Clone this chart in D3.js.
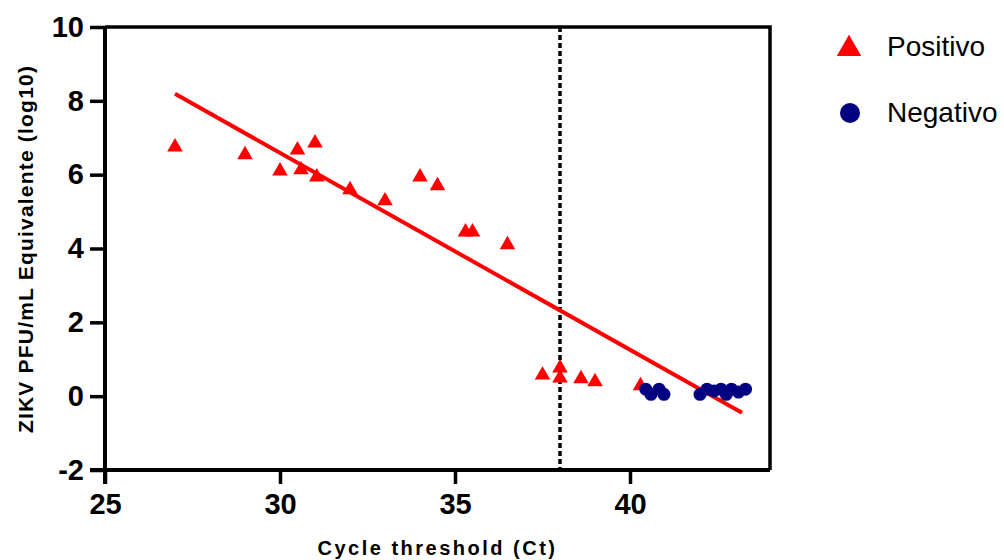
<!DOCTYPE html>
<html>
<head>
<meta charset="utf-8">
<script src="https://cdn.jsdelivr.net/npm/d3@7/dist/d3.min.js"></script>
<style>
  body { margin: 0; background: #fff; }
  text { font-family: "Liberation Sans", Arial, sans-serif; }
</style>
</head>
<body>
<div id="vis"></div>
<script>
// Positive samples (Ct, log10 PFU/mL)
var posCt  = [27, 29, 30, 30.5, 30.6, 31, 31.05, 32, 33, 34, 34.5, 35.3, 35.5, 36.5, 37.5, 38, 38, 38.6, 39, 40.3];
var posVal = [6.75, 6.54, 6.1, 6.67, 6.13, 6.86, 5.94, 5.59, 5.29, 5.94, 5.7, 4.45, 4.45, 4.1, 0.57, 0.76, 0.49, 0.47, 0.39, 0.28];

// Negative samples
var negCt  = [40.45, 40.6, 40.83, 40.97, 42.0, 42.2, 42.4, 42.6, 42.75, 42.9, 43.1, 43.3];
var negVal = [0.19, 0.05, 0.19, 0.05, 0.05, 0.19, 0.14, 0.19, 0.05, 0.19, 0.11, 0.19];

// Linear fit ends and cutoff
var fitCt  = [27, 43.2];
var fitVal = [8.19, -0.45];
var cutoffCt = 38;

var xTicks = [25, 30, 35, 40];
var yTicks = [-2, 0, 2, 4, 6, 8, 10];
var legendLabels = ['Positivo', 'Negativo'];

var width = 1004, height = 560;
var margin = { top: 27, right: 234, bottom: 90, left: 105 };
var drawWidth = width - margin.left - margin.right;
var drawHeight = height - margin.top - margin.bottom;

var svg = d3.select('#vis').append('svg')
    .attr('width', width)
    .attr('height', height);

var g = svg.append('g')
    .attr('transform', 'translate(' + margin.left + ',' + margin.top + ')');

var xScale = d3.scaleLinear().domain([25, 44]).range([0, drawWidth]);
var yScale = d3.scaleLinear().domain([-2, 10]).range([drawHeight, 0]);

// frame (top and right)
g.append('path')
    .attr('d', 'M0,0H' + drawWidth + 'V' + drawHeight)
    .attr('fill', 'none')
    .attr('stroke', '#000')
    .attr('stroke-width', 3.5);

// axes
var fmt = function(d) { return String(d); };
var xAxis = d3.axisBottom(xScale).tickValues(xTicks).tickFormat(fmt).tickSize(14).tickPadding(9);
var yAxis = d3.axisLeft(yScale).tickValues(yTicks).tickFormat(fmt).tickSize(15).tickPadding(6);

var gx = g.append('g')
    .attr('transform', 'translate(0,' + drawHeight + ')')
    .call(xAxis);
var gy = g.append('g').call(yAxis);

[gx, gy].forEach(function(ax) {
    ax.select('.domain').attr('stroke-width', 4);
    ax.selectAll('.tick line').attr('stroke-width', 3.5);
    ax.selectAll('.tick text')
        .style('font-size', '29px')
        .style('font-weight', 'bold')
        .style('font-family', '"Liberation Sans", Arial, sans-serif')
        .attr('fill', '#000');
});
gy.select('.domain').attr('d', 'M0,' + (drawHeight + 14) + 'V0');
gx.select('.domain').attr('d', 'M-15,0H' + drawWidth);

// axis labels
svg.append('text')
    .attr('x', margin.left + drawWidth / 2)
    .attr('y', 555)
    .attr('text-anchor', 'middle')
    .style('font-size', '20px')
    .style('font-weight', 'bold')
    .attr('letter-spacing', 2.5)
    .text('Cycle threshold (Ct)');

svg.append('text')
    .attr('transform', 'translate(33,249) rotate(-90)')
    .attr('text-anchor', 'middle')
    .style('font-size', '21px')
    .style('font-weight', 'bold')
    .attr('letter-spacing', 1.2)
    .text('ZIKV PFU/mL Equivalente (log10)');

// cutoff line
g.append('line')
    .attr('x1', xScale(cutoffCt)).attr('x2', xScale(cutoffCt))
    .attr('y1', 0).attr('y2', drawHeight)
    .attr('stroke', '#000')
    .attr('stroke-width', 3.5)
    .attr('stroke-dasharray', '5,3');

// fit line
var line = d3.line()
    .x(function(d) { return xScale(d[0]); })
    .y(function(d) { return yScale(d[1]); });

g.append('path')
    .datum(d3.zip(fitCt, fitVal))
    .attr('d', line)
    .attr('fill', 'none')
    .attr('stroke', '#ff0000')
    .attr('stroke-width', 4);

// points
var tri = d3.symbol().type(d3.symbolTriangle).size(105);

g.selectAll('.pos')
    .data(d3.zip(posCt, posVal))
    .enter().append('path')
    .attr('class', 'pos')
    .attr('d', tri)
    .attr('transform', function(d) { return 'translate(' + xScale(d[0]) + ',' + yScale(d[1]) + ')'; })
    .attr('fill', '#ff0000');

g.selectAll('.neg')
    .data(d3.zip(negCt, negVal))
    .enter().append('circle')
    .attr('class', 'neg')
    .attr('cx', function(d) { return xScale(d[0]); })
    .attr('cy', function(d) { return yScale(d[1]); })
    .attr('r', 6.5)
    .attr('fill', '#000080');

// legend
var legend = svg.append('g').attr('transform', 'translate(849,0)');
legend.append('path')
    .attr('d', d3.symbol().type(d3.symbolTriangle).size(260))
    .attr('transform', 'translate(0,49)')
    .attr('fill', '#ff0000');
legend.append('circle')
    .attr('cx', 1).attr('cy', 113).attr('r', 10)
    .attr('fill', '#000080');
legend.selectAll('.lbl')
    .data(legendLabels)
    .enter().append('text')
    .attr('class', 'lbl')
    .attr('x', 38)
    .attr('y', function(d, i) { return 56 + i * 66; })
    .style('font-size', '28px')
    .attr('fill', '#000')
    .text(function(d) { return d; });
</script>
</body>
</html>
